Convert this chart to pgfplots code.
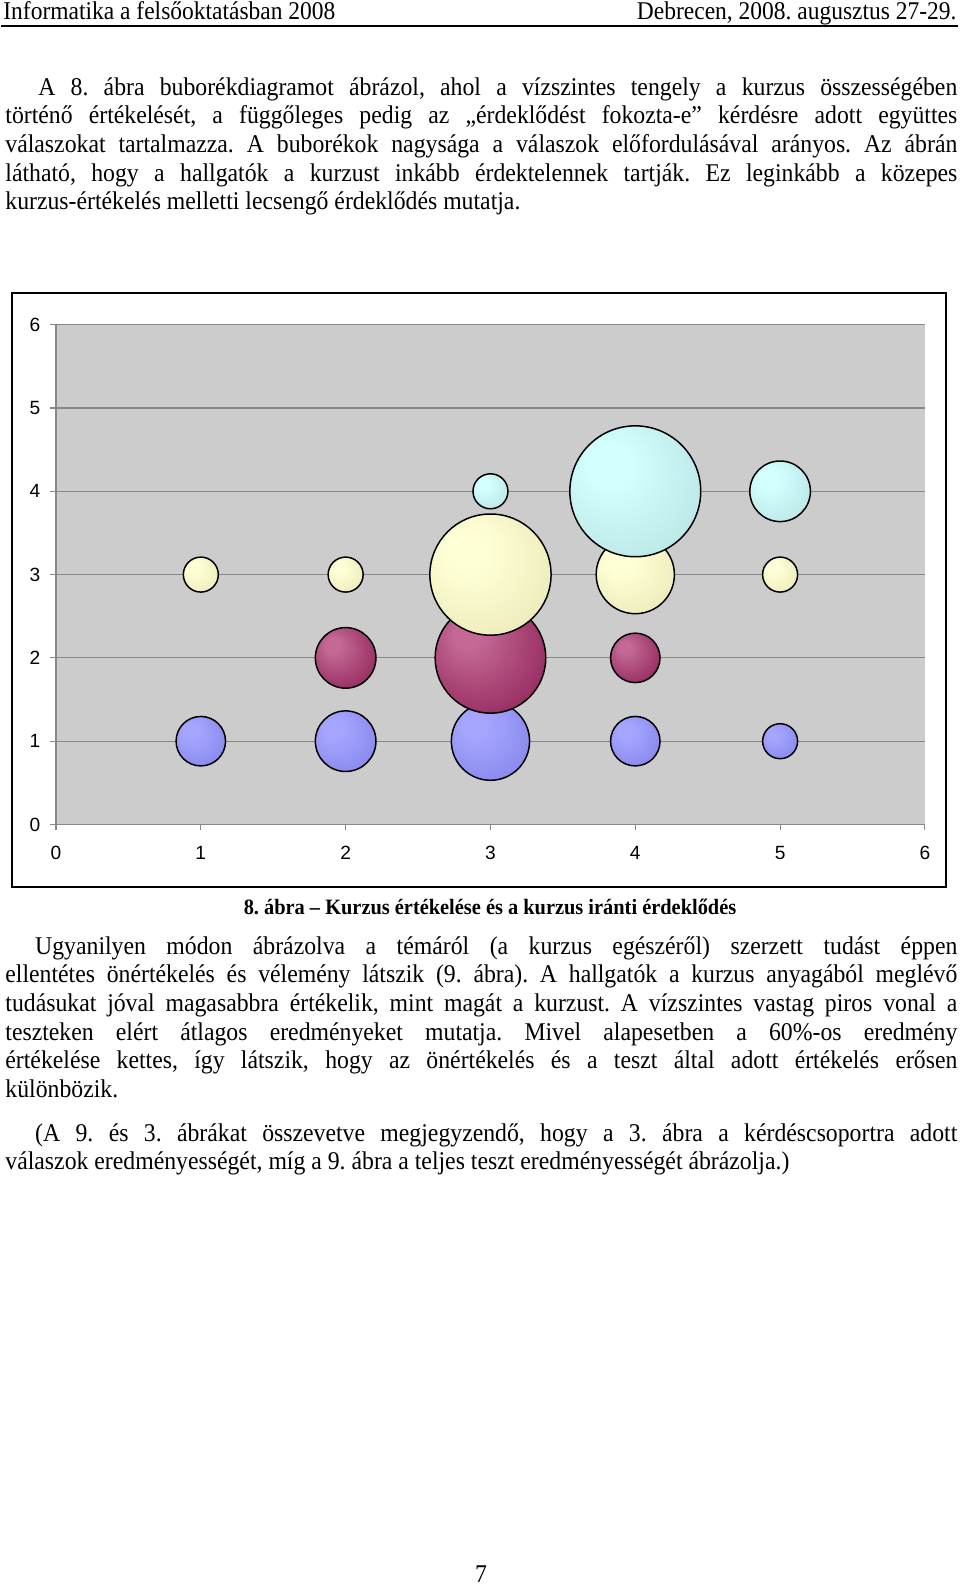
\documentclass[border=0pt]{standalone}
\usepackage{fontspec}
\setmainfont{Liberation Serif}[FakeStretch=0.93]
\newfontfamily\headfont{Liberation Serif}[FakeStretch=0.92]
\newfontfamily\chartfont{Liberation Sans}
\usepackage{pgfplots}
\usepackage{pgfplotstable}
\pgfplotsset{compat=1.18}
\frenchspacing

\definecolor{plotgray}{RGB}{204,204,204}
\definecolor{gridgray}{RGB}{136,136,136}
\definecolor{bluC}{RGB}{165,165,255}
\definecolor{bluM}{RGB}{140,140,240}
\definecolor{bluE}{RGB}{98,98,185}
\definecolor{marC}{RGB}{195,105,148}
\definecolor{marM}{RGB}{155,50,102}
\definecolor{marE}{RGB}{112,30,70}
\definecolor{yelC}{RGB}{255,255,215}
\definecolor{yelM}{RGB}{240,238,190}
\definecolor{yelE}{RGB}{190,187,145}
\definecolor{cyaC}{RGB}{212,255,255}
\definecolor{cyaM}{RGB}{190,234,234}
\definecolor{cyaE}{RGB}{138,182,182}

\pgfdeclareradialshading{shblu}{\pgfpoint{-12bp}{12bp}}{color(0bp)=(bluC); color(8bp)=(bluC); color(30bp)=(bluM); color(50bp)=(bluE)}
\pgfdeclareradialshading{shmar}{\pgfpoint{-12bp}{12bp}}{color(0bp)=(marC); color(6bp)=(marC); color(30bp)=(marM); color(50bp)=(marE)}
\pgfdeclareradialshading{shyel}{\pgfpoint{-12bp}{12bp}}{color(0bp)=(yelC); color(8bp)=(yelC); color(30bp)=(yelM); color(50bp)=(yelE)}
\pgfdeclareradialshading{shcya}{\pgfpoint{-12bp}{12bp}}{color(0bp)=(cyaC); color(8bp)=(cyaC); color(30bp)=(cyaM); color(50bp)=(cyaE)}

\pgfdeclareplotmark{bblu}{\pgfpathcircle{\pgfpointorigin}{\pgfplotmarksize}\pgfshadepath{shblu}{0}\pgfusepathqstroke}
\pgfdeclareplotmark{bmar}{\pgfpathcircle{\pgfpointorigin}{\pgfplotmarksize}\pgfshadepath{shmar}{0}\pgfusepathqstroke}
\pgfdeclareplotmark{byel}{\pgfpathcircle{\pgfpointorigin}{\pgfplotmarksize}\pgfshadepath{shyel}{0}\pgfusepathqstroke}
\pgfdeclareplotmark{bcya}{\pgfpathcircle{\pgfpointorigin}{\pgfplotmarksize}\pgfshadepath{shcya}{0}\pgfusepathqstroke}

% x = kurzus ertekelese, y = erdeklodes, n = valaszok szama
\pgfplotstableread{
x y n
1 1 2
2 1 3
3 1 5
4 1 2
5 1 1
}\tblA
\pgfplotstableread{
x y n
2 2 3
3 2 10
4 2 2
}\tblB
\pgfplotstableread{
x y n
1 3 1
2 3 1
3 3 12
4 3 5
5 3 1
}\tblC
\pgfplotstableread{
x y n
3 4 1
4 4 14
5 4 3
}\tblD

\pgfplotsset{bub/.style={
    scatter, only marks,
    scatter/use mapped color={draw=black},
    mark options={draw=black, line width=0.7pt},
    visualization depends on={8.22*sqrt(\thisrow{n}) \as \rad},
    scatter/@pre marker code/.append style={/tikz/mark size=\rad},
}}

\begin{document}
\begin{tikzpicture}[x=0.47pt, y=-0.47pt]
\path[use as bounding box, fill=white] (0,0) rectangle (960,1585);

% fejlec
\node[anchor=base west, inner sep=0, font=\headfont\fontsize{12}{13.5}\selectfont] at (3,19) {Informatika a felsőoktatásban 2008};
\node[anchor=base east, inner sep=0, font=\headfont\fontsize{12}{13.5}\selectfont] at (957,19) {Debrecen, 2008. augusztus 27-29.};
\draw[line width=0.7pt] (1,26) -- (958,26);

\node[anchor=base west, inner sep=0, font=\fontsize{12}{13.5}\selectfont] at (5,95) {\parbox[t]{447.4pt}{\hspace*{15.5pt}A 8. ábra buborékdiagramot ábrázol, ahol a vízszintes tengely a kurzus összességében\linebreak
történő értékelését, a függőleges pedig az „érdeklődést fokozta-e” kérdésre adott együttes\linebreak
válaszokat tartalmazza. A buborékok nagysága a válaszok előfordulásával arányos. Az ábrán\linebreak
látható, hogy a hallgatók a kurzust inkább érdektelennek tartják. Ez leginkább a közepes\linebreak
kurzus-értékelés melletti lecsengő érdeklődés mutatja.}};

% keret
\draw[line width=1.2pt] (12,293) rectangle (946,887);

\begin{axis}[
    at={(26.32pt,-387.5pt)}, anchor=south west,
    scale only axis, width=408.4pt, height=234.9pt,
    xmin=0, xmax=6, ymin=0, ymax=6,
    xtick={0,1,2,3,4,5,6}, ytick={0,1,2,3,4,5,6},
    axis x line*=bottom, axis y line*=left,
    axis line style={draw=gridgray, line width=0.5pt, -},
    tick style={draw=gridgray, line width=0.5pt},
    tick align=outside, major tick length=2.8pt,
    ymajorgrids, grid style={draw=gridgray, line width=0.5pt},
    axis background/.style={fill=plotgray},
    /pgf/number format/assume math mode=true,
    tick label style={font=\chartfont\fontsize{9}{10}\selectfont},
    xticklabel style={yshift=-4pt},
    yticklabel style={xshift=-1pt},
    clip=false,
]
\addplot[bub, mark=bblu] table {\tblA};
\addplot[bub, mark=bmar] table {\tblB};
\addplot[bub, mark=byel] table {\tblC};
\addplot[bub, mark=bcya] table {\tblD};
\end{axis}

\node[anchor=base, inner sep=0, font=\bfseries\fontsize{10.3}{12}\selectfont] at (490,914) {8. ábra – Kurzus értékelése és a kurzus iránti érdeklődés};

\node[anchor=base west, inner sep=0, font=\fontsize{12}{13.5}\selectfont] at (5,954) {\parbox[t]{447.4pt}{\hspace*{14pt}Ugyanilyen módon ábrázolva a témáról (a kurzus egészéről) szerzett tudást éppen\linebreak
ellentétes önértékelés és vélemény látszik (9. ábra). A hallgatók a kurzus anyagából meglévő\linebreak
tudásukat jóval magasabbra értékelik, mint magát a kurzust. A vízszintes vastag piros vonal a\linebreak
teszteken elért átlagos eredményeket mutatja. Mivel alapesetben a 60\%-os eredmény\linebreak
értékelése kettes, így látszik, hogy az önértékelés és a teszt által adott értékelés erősen\linebreak
különbözik.}};

\node[anchor=base west, inner sep=0, font=\fontsize{12}{13.5}\selectfont] at (5,1141) {\parbox[t]{447.4pt}{\hspace*{14pt}(A 9. és 3. ábrákat összevetve megjegyzendő, hogy a 3. ábra a kérdéscsoportra adott\linebreak
válaszok eredményességét, míg a 9. ábra a teljes teszt eredményességét ábrázolja.)}};

\node[anchor=base, inner sep=0, font=\fontsize{12}{13.5}\selectfont] at (481,1582) {7};
\end{tikzpicture}
\end{document}
